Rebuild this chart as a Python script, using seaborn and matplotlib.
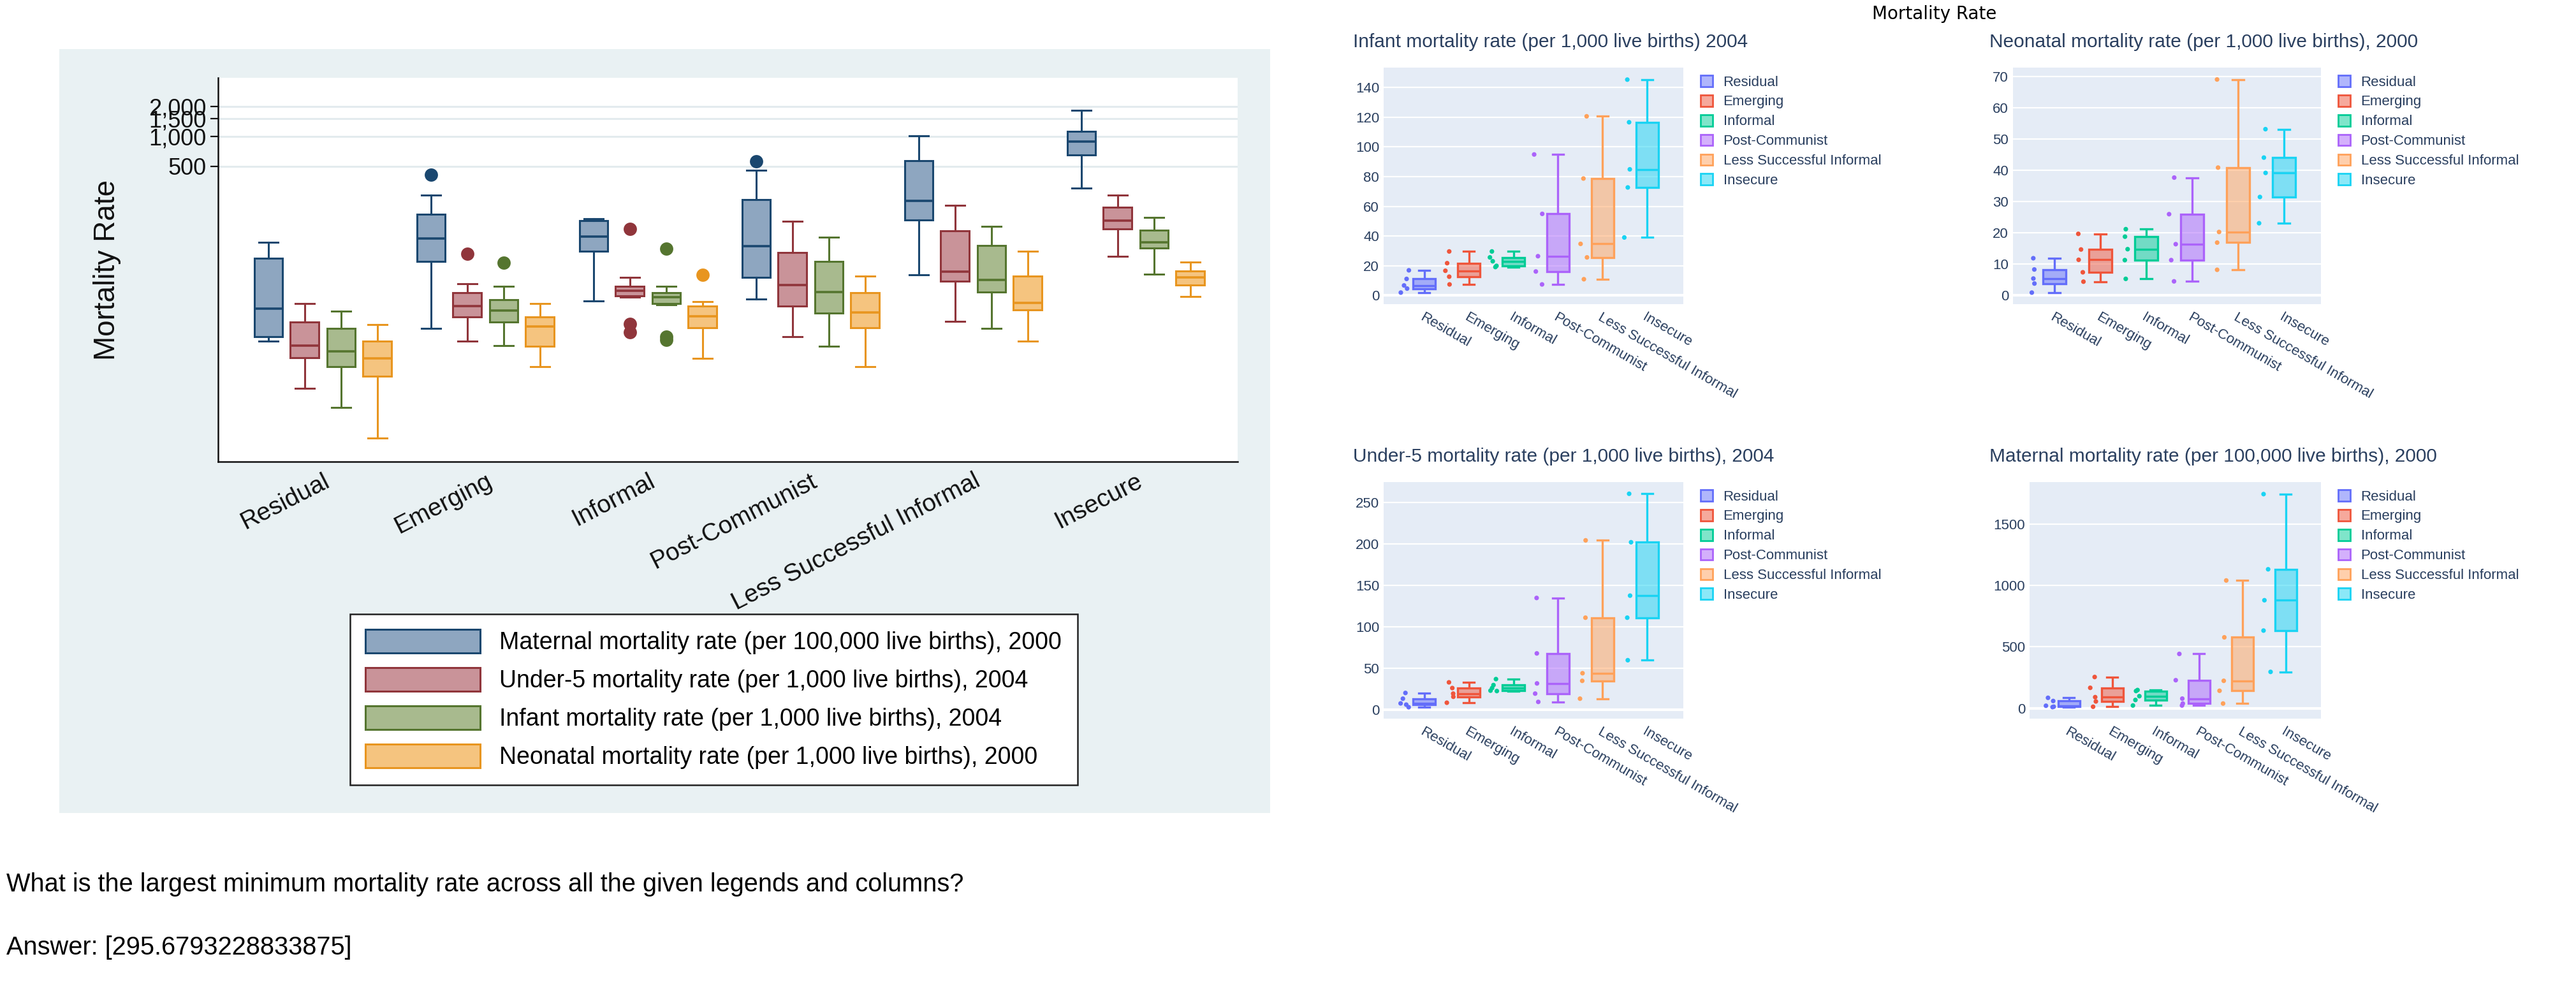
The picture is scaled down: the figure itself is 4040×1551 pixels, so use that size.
import numpy as np
import pandas as pd
import matplotlib
matplotlib.use("Agg")
import matplotlib.pyplot as plt
import matplotlib.colors as mcolors
import matplotlib.transforms as mtransforms
from matplotlib.patches import Patch, Rectangle
from matplotlib.ticker import MultipleLocator, FixedLocator, FuncFormatter, NullLocator
import seaborn as sns

plt.rcParams['font.family'] = ['Liberation Sans', 'DejaVu Sans']
np.random.seed(7)

# ---------------------------------------------------------------- data
categories = ["Residual", "Emerging", "Informal", "Post-Communist",
              "Less Successful Informal", "Insecure"]

# country-level values shown as points in the plotly panels
infant_2004 = {
    "Residual": [1.9, 4.6, 6.7, 11.1, 16.9],
    "Emerging": [7.4, 12.6, 16.6, 21.7, 29.6],
    "Informal": [19.1, 19.9, 23.0, 25.6, 29.6],
    "Post-Communist": [7.4, 16.1, 26.4, 54.9, 94.9],
    "Less Successful Informal": [10.9, 25.6, 34.7, 78.7, 120.6],
    "Insecure": [39.0, 72.7, 84.9, 116.6, 145.3],
}
neonatal_2000 = {
    "Residual": [0.9, 3.8, 5.4, 8.3, 11.9],
    "Emerging": [4.4, 7.4, 11.4, 14.7, 19.7],
    "Informal": [5.3, 11.3, 14.8, 18.8, 21.2],
    "Post-Communist": [4.5, 11.3, 16.4, 26.0, 37.7],
    "Less Successful Informal": [8.2, 16.9, 20.3, 40.9, 69.1],
    "Insecure": [23.1, 31.5, 39.2, 44.1, 53.2],
}
under5_2004 = {
    "Residual": [2.8, 5.9, 7.4, 13.1, 20.0],
    "Emerging": [8.2, 15.4, 19.2, 25.9, 32.8],
    "Informal": [22.3, 22.8, 25.9, 29.5, 36.7],
    "Post-Communist": [9.2, 19.2, 31.5, 67.7, 134.6],
    "Less Successful Informal": [13.1, 34.6, 43.8, 110.8, 204.1],
    "Insecure": [59.5, 110.8, 137.4, 201.8, 260.3],
}
maternal_2000 = {
    "Residual": [9.0, 12.5, 20.0, 58.7, 84.6],
    "Emerging": [12.0, 55.0, 90.0, 166.0, 254.0],
    "Informal": [22.0, 67.0, 98.0, 140.0, 148.0],
    "Post-Communist": [22.0, 38.0, 78.0, 228.0, 442.0],
    "Less Successful Informal": [38.0, 142.0, 223.0, 577.0, 1040.0],
    "Insecure": [295.68, 632.0, 879.0, 1131.0, 1743.0],
}

# Stata box summaries (log-scale chart): low whisker, Q1, median, Q3, high whisker, outliers
st_maternal_lo = [8.7, 11.6, 22, 23, 40, 301]
st_maternal_q1 = [9.6, 55, 70, 38, 144, 648]
st_maternal_med = [18.5, 94, 98, 78, 225, 887]
st_maternal_q3 = [59, 165, 141, 230, 568, 1128]
st_maternal_hi = [86, 255, 148, 457, 1018, 1828]
st_maternal_out = [[], [412], [], [557], [], []]

st_under5_lo = [2.9, 8.7, 24.0, 9.6, 13.7, 62]
st_under5_q1 = [5.9, 15.2, 24.7, 19.6, 35, 116]
st_under5_med = [7.8, 19.6, 28, 32, 43.5, 141]
st_under5_q3 = [13.5, 26.6, 31, 68, 111, 194]
st_under5_hi = [20.6, 32.8, 38, 139, 202, 255]
st_under5_out = [[], [66], [116, 12.9, 10.7], [], [], []]

st_infant_lo = [1.87, 7.8, 20.0, 7.7, 11.6, 41]
st_infant_q1 = [4.8, 13.4, 20.6, 16.7, 27, 75]
st_infant_med = [6.8, 17.7, 24, 27, 36, 86]
st_infant_q3 = [11.6, 22.6, 26.6, 55, 80, 113]
st_infant_hi = [17.4, 31, 31, 97, 124, 152]
st_infant_out = [[], [53], [74, 9.6, 8.9], [], [], []]

st_neonatal_lo = [0.92, 4.8, 5.8, 4.8, 8.7, 24.5]
st_neonatal_q1 = [3.86, 7.7, 11.8, 11.8, 18, 32]
st_neonatal_med = [5.8, 12.1, 15.5, 16.9, 20.9, 38]
st_neonatal_q3 = [8.7, 15.2, 19.6, 26.6, 39, 44]
st_neonatal_hi = [12.7, 20.6, 21.8, 39, 70, 54]
st_neonatal_out = [[], [], [40], [], [], []]

stata_labels = ["Maternal mortality rate (per 100,000 live births), 2000",
                "Under-5 mortality rate (per 1,000 live births), 2004",
                "Infant mortality rate (per 1,000 live births), 2004",
                "Neonatal mortality rate (per 1,000 live births), 2000"]
stata_yticks = [500, 1000, 1500, 2000]

question = "What is the largest minimum mortality rate across all the given legends and columns?"
answer = "Answer: [295.6793228833875]"

# ---------------------------------------------------------------- styles
W, H = 4040, 1551
STATA_BG = "#e9f1f3"
STATA_GRID = "#e3ebee"
STATA_EDGE = ["#1a476f", "#90353b", "#55752f", "#e8951f"]
STATA_FILL = ["#8ea6c0", "#c99399", "#a8ba8e", "#f5c47f"]
PLOTLY_COLORS = ["#636EFA", "#EF553B", "#00CC96", "#AB63FA", "#FFA15A", "#19D3F3"]
PLOTLY_BG = "#E5ECF6"
PLOTLY_TEXT = "#2a3f5f"


def rect(x0, y0, x1, y1):
    return [x0 / W, 1 - y1 / H, (x1 - x0) / W, (y1 - y0) / H]


fig = plt.figure(figsize=(W / 100, H / 100), dpi=100)
fig.patch.set_facecolor("white")

# ---------------------------------------------------------------- Stata panel
fig.patches.append(Rectangle((93 / W, 1 - 1275 / H), (1992 - 93) / W, (1275 - 77) / H,
                             transform=fig.transFigure, facecolor=STATA_BG,
                             edgecolor="none", zorder=-5))
ax_s = fig.add_axes(rect(342, 122, 1941, 724))
ax_s.set_facecolor("white")
ax_s.set_yscale("log")

stata_series = [
    (st_maternal_lo, st_maternal_q1, st_maternal_med, st_maternal_q3, st_maternal_hi, st_maternal_out),
    (st_under5_lo, st_under5_q1, st_under5_med, st_under5_q3, st_under5_hi, st_under5_out),
    (st_infant_lo, st_infant_q1, st_infant_med, st_infant_q3, st_infant_hi, st_infant_out),
    (st_neonatal_lo, st_neonatal_q1, st_neonatal_med, st_neonatal_q3, st_neonatal_hi, st_neonatal_out),
]
offsets = [-0.335, -0.112, 0.112, 0.335]
for j, (lo, q1, med, q3, hi, out) in enumerate(stata_series):
    stats = [dict(whislo=lo[i], q1=q1[i], med=med[i], q3=q3[i], whishi=hi[i],
                  fliers=out[i]) for i in range(len(categories))]
    ec, fc = STATA_EDGE[j], STATA_FILL[j]
    ax_s.bxp(stats, positions=np.arange(len(categories)) + offsets[j], widths=0.176,
             capwidths=0.118, patch_artist=True, showfliers=True, manage_ticks=False,
             boxprops=dict(facecolor=fc, edgecolor=ec, linewidth=2.2),
             medianprops=dict(color=ec, linewidth=2.6),
             whiskerprops=dict(color=ec, linewidth=2.2),
             capprops=dict(color=ec, linewidth=2.2),
             flierprops=dict(marker="o", markerfacecolor=ec, markeredgecolor=ec,
                             markersize=15, markeredgewidth=0))

ax_s.set_xlim(-0.645, 5.626)
ax_s.set_ylim(0.53, 3880)
ax_s.yaxis.set_major_locator(FixedLocator(stata_yticks))
ax_s.yaxis.set_minor_locator(NullLocator())
ax_s.yaxis.set_major_formatter(FuncFormatter(lambda v, p: f"{v:,.0f}"))
ax_s.yaxis.grid(True, color=STATA_GRID, linewidth=2.2)
ax_s.set_axisbelow(True)
for s in ["top", "right"]:
    ax_s.spines[s].set_visible(False)
for s in ["left", "bottom"]:
    ax_s.spines[s].set_color("#111111")
    ax_s.spines[s].set_linewidth(1.8)
ax_s.tick_params(axis="y", length=9, width=1.6, labelsize=26, pad=4, colors="#111111")
ax_s.set_xticks(np.arange(len(categories)))
ax_s.set_xticklabels(categories, rotation=27, ha="right", va="top",
                     rotation_mode="anchor", fontsize=28, color="#111111")
ax_s.tick_params(axis="x", length=0, pad=9)
ax_s.set_ylabel("Mortality Rate", fontsize=33, color="#111111")
ax_s.yaxis.set_label_coords(-0.095, 0.5)

st_handles = [Patch(facecolor=STATA_FILL[j], edgecolor=STATA_EDGE[j], linewidth=2.2,
                    label=stata_labels[j]) for j in range(4)]
leg = fig.legend(handles=st_handles, loc="upper left",
                 bbox_to_anchor=(549 / W, 1 - 963 / H), bbox_transform=fig.transFigure,
                 fontsize=27, frameon=True, fancybox=False, framealpha=1,
                 edgecolor="#222222", facecolor="white", handlelength=4.8,
                 handleheight=1.12, labelspacing=0.56, handletextpad=0.8,
                 borderpad=0.65, borderaxespad=0)
leg.get_frame().set_linewidth(1.8)

# ---------------------------------------------------------------- plotly-style panels
def plotly_panel(box_px, data, title, title_px, ylim, step):
    x0, y0, x1, y1 = box_px
    ax = fig.add_axes(rect(x0, y0, x1, y1))
    df = pd.DataFrame([(c, v) for c in categories for v in data[c]],
                      columns=["group", "value"])
    sns.boxplot(data=df, x="group", y="value", hue="group", order=categories,
                hue_order=categories, palette=PLOTLY_COLORS, width=0.5,
                whis=(0, 100), fliersize=0, linewidth=2.4, legend=False, ax=ax)
    for cont, col in zip(ax.containers, PLOTLY_COLORS):
        for b in cont.boxes:
            b.set_facecolor(mcolors.to_rgba(col, 0.5))
            b.set_edgecolor(col)
        for ln in list(cont.medians) + list(cont.whiskers) + list(cont.caps):
            ln.set_color(col)
    n_before = len(ax.collections)
    sns.stripplot(data=df, x="group", y="value", hue="group", order=categories,
                  hue_order=categories, palette=PLOTLY_COLORS, jitter=0.1, size=5.2,
                  linewidth=0, legend=False, ax=ax)
    shift = mtransforms.Affine2D().translate(-0.44, 0) + ax.transData
    for coll in ax.collections[n_before:]:
        coll.set_offset_transform(shift)

    ax.set_xlim(-0.91, 5.81)
    ax.set_ylim(*ylim)
    ax.yaxis.set_major_locator(MultipleLocator(step))
    ax.set_facecolor(PLOTLY_BG)
    for s in ax.spines.values():
        s.set_visible(False)
    ax.grid(axis="y", color="white", linewidth=1.6)
    ax.grid(axis="x", visible=False)
    ax.set_axisbelow(True)
    ax.axhline(0, color="white", linewidth=3.0, zorder=0.6)
    ax.set_xlabel("")
    ax.set_ylabel("")
    ax.set_xticks(np.arange(len(categories)))
    ax.set_xticklabels(categories, rotation=-30, ha="left", va="top",
                       rotation_mode="anchor")
    ax.tick_params(axis="both", length=0, labelsize=16, labelcolor=PLOTLY_TEXT)
    ax.tick_params(axis="x", pad=7)
    ax.tick_params(axis="y", pad=5)

    handles = [Patch(facecolor=mcolors.to_rgba(c, 0.5), edgecolor=c, linewidth=2,
                     label=cat) for c, cat in zip(PLOTLY_COLORS, categories)]
    ax.legend(handles=handles, loc="upper left",
              bbox_to_anchor=(1 + 27 / (x1 - x0), 1 - 12 / (y1 - y0)),
              frameon=False, fontsize=16, handlelength=0.85, handleheight=0.85,
              handletextpad=0.75, labelspacing=0.42, borderpad=0, borderaxespad=0,
              labelcolor=PLOTLY_TEXT)
    fig.text(title_px[0] / W, 1 - title_px[1] / H, title, fontsize=21.5,
             color=PLOTLY_TEXT, va="baseline", ha="left")
    return ax


plotly_panel((2170, 106, 2640, 477), infant_2004,
             "Infant mortality rate (per 1,000 live births) 2004", (2122, 74),
             (-5.9, 153.4), 20)
plotly_panel((3157, 106, 3640, 477), neonatal_2000,
             "Neonatal mortality rate (per 1,000 live births), 2000", (3120, 74),
             (-2.8, 72.9), 10)
plotly_panel((2170, 756, 2640, 1127), under5_2004,
             "Under-5 mortality rate (per 1,000 live births), 2004", (2122, 724),
             (-11.0, 274.4), 50)
plotly_panel((3183, 756, 3640, 1127), maternal_2000,
             "Maternal mortality rate (per 100,000 live births), 2000", (3120, 724),
             (-85.0, 1841.0), 500)

fig.text(3034 / W, 1 - 8 / H, "Mortality Rate", fontsize=20, family="DejaVu Sans",
         ha="center", va="top", color="black")

# ---------------------------------------------------------------- question text
fig.text(10 / W, 1 - 1398 / H, question, fontsize=28.6, ha="left", va="baseline",
         color="black")
fig.text(10 / W, 1 - 1497 / H, answer, fontsize=28.6, ha="left", va="baseline",
         color="black")

fig.savefig("out.png", dpi=100, facecolor="white")
